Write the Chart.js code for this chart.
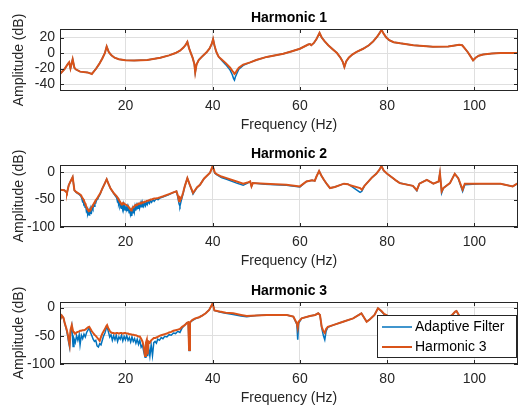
<!DOCTYPE html>
<html>
<head>
<meta charset="utf-8">
<script src="https://cdn.jsdelivr.net/npm/chart.js@4/dist/chart.umd.min.js"></script>
<style>
  body { margin: 0; background: #fff; }
  canvas { position: absolute; left: 0; }
</style>
</head>
<body>
<canvas id="h1Chart" width="519" height="137" style="top:0px"></canvas>
<canvas id="h2Chart" width="519" height="137" style="top:136px"></canvas>
<canvas id="h3Chart" width="519" height="137" style="top:273px"></canvas>
<script>
// x ticks shared by all three panels
const freqTicks = [20, 40, 60, 80, 100];

// Harmonic 1
const h1Freq = [5.0, 6.0, 6.8, 7.1, 7.4, 7.9, 8.3, 8.6, 9.6, 11.3,
  12.3, 13.3, 14.0, 14.7, 15.3, 15.7, 16.2, 16.8, 17.5, 18.5,
  20.0, 22.0, 25.0, 28.0, 30.0, 31.5, 32.5, 33.3, 33.8, 34.2,
  34.6, 35.0, 35.4, 35.8, 36.0, 36.3, 36.8, 37.5, 38.6, 39.3,
  39.8, 40.1, 40.4, 40.8, 41.2, 41.4, 42.0, 43.0, 44.0, 44.5,
  44.8, 45.0, 45.2, 45.5, 46.0, 47.0, 48.6, 50.0, 52.4, 56.2,
  58.0, 60.0, 61.9, 62.3, 62.6, 63.2, 63.8, 64.5, 65.0, 65.7,
  66.5, 67.5, 68.5, 69.3, 69.8, 70.2, 70.6, 71.2, 72.0, 73.0,
  74.5, 75.8, 76.8, 77.7, 78.3, 78.7, 79.2, 79.8, 80.5, 81.5,
  83.0, 86.0, 90.5, 94.0, 95.5, 96.5, 97.2, 97.8, 98.5, 99.2,
  99.7, 100.3, 101.0, 102.0, 104.0, 106.0, 110.0];
const h1Ref = [-27, -21, -14, -12, -20, -8, -19, -21, -24, -25,
  -27, -20, -14, -7, 0, 8.5, 1, -3, -6, -8,
  -9.4, -9.5, -9, -6, -3, 0, 3, 7, 10.5, 14.5,
  6, 0, -6, -14, -25, -15, -9, -5, 1, 6,
  12, 18, 10, 2, -3, -5, -8, -13, -19, -23,
  -25, -27, -26, -23, -19, -15, -12, -9, -5, -1,
  2, 5.5, 11, 11.5, 10, 13, 18, 26, 20, 15,
  10, 5, 0, -6, -11, -18, -11, -6, -2, 1.5,
  5.5, 10, 15, 21, 26, 30, 25, 20, 16.5, 14,
  12.5, 10, 8, 8.5, 9.8, 10.7, 10, 6, 1, -5,
  -9.4, -6, -3.5, -2, -0.5, 0, 0];
const h1Af = [-27, -21, -14, -12, -20, -8, -19, -21, -24, -25,
  -27, -20, -14, -7, 0, 8.5, 1, -3, -6, -8,
  -9.4, -9.5, -9, -6, -3, 0, 3, 7, 10.5, 14.5,
  6, 0, -6, -14, -25, -15, -9, -5, 1, 6,
  12, 18, 10, 2, -3, -5, -9, -15, -22, -28,
  -33, -35, -31, -27, -21, -16, -12, -9, -5, -1,
  2, 5.5, 11, 11.5, 10, 13, 18, 26, 20, 15,
  10, 5, 0, -6, -11, -18, -11, -6, -2, 1.5,
  5.5, 10, 15, 21, 26, 30, 25, 20, 16.5, 14,
  12.5, 10, 8, 8.5, 9.8, 10.7, 10, 6, 1, -5,
  -9.4, -6, -3.5, -2, -0.5, 0, 0];
const h1Ticks = [-40, -20, 0, 20];

// Harmonic 2
const h2Freq = [5.0, 6.0, 6.4, 6.6, 7.0, 7.4, 7.9, 8.3, 8.7, 9.3,
  9.8, 10.0, 10.15, 10.3, 10.45, 10.6, 10.75, 10.9, 11.05, 11.2,
  11.35, 11.5, 11.65, 11.8, 11.95, 12.1, 12.25, 12.4, 12.55, 12.7,
  12.85, 13.0, 13.2, 13.4, 13.6, 13.8, 14.2, 14.7, 15.3, 15.7,
  16.1, 16.6, 17.4, 18.0, 18.15, 18.3, 18.45, 18.6, 18.75, 18.9,
  19.05, 19.2, 19.35, 19.5, 19.65, 19.8, 19.95, 20.1, 20.25, 20.4,
  20.55, 20.7, 20.85, 21.0, 21.15, 21.3, 21.45, 21.6, 21.75, 21.9,
  22.05, 22.2, 22.35, 22.5, 22.65, 22.8, 22.95, 23.1, 23.25, 23.4,
  23.55, 23.7, 23.85, 24.0, 24.2, 24.4, 24.6, 24.8, 25.0, 25.25,
  25.5, 25.75, 26.0, 26.3, 26.6, 27.0, 27.5, 27.9, 28.7, 30.0,
  31.0, 31.7, 32.0, 32.3, 32.5, 32.8, 33.2, 33.6, 34.2, 34.7,
  35.2, 35.5, 36.4, 37.1, 38.0, 39.4, 40.0, 40.5, 41.0, 42.0,
  43.2, 45.5, 47.0, 48.0, 48.6, 48.9, 49.2, 52.0, 56.9, 60.0,
  61.5, 62.8, 63.4, 63.8, 64.4, 64.9, 65.5, 66.2, 66.9, 68.0,
  70.1, 71.0, 71.5, 73.8, 74.2, 74.8, 76.5, 77.5, 78.2, 78.7,
  79.2, 80.0, 81.0, 82.0, 82.9, 85.9, 86.8, 87.4, 89.1, 90.6,
  91.8, 92.1, 92.5, 92.9, 94.4, 95.5, 96.3, 97.3, 97.8, 101.2,
  106.0, 108.8, 110.0];
const h2Ref = [-32, -33, -36, -38, -24, -17, -9, -33, -36, -39,
  -42, -45, -47, -49, -51, -54, -57, -60, -63, -66,
  -68, -70, -71, -69, -68, -66, -64, -62, -60, -58,
  -56, -54, -51, -49, -47, -44, -39, -30, -20, -13,
  -21, -30, -39, -44, -46, -48, -50, -52, -54, -56,
  -57, -58, -57, -58, -57, -58, -59, -59, -60, -61,
  -62, -63, -65, -66, -68, -70, -68, -66, -64, -63,
  -62, -61, -60, -60, -59, -59, -58, -57, -57, -57,
  -56, -56, -56, -55, -55, -54, -54, -53, -52, -52,
  -51, -50, -50, -49, -48, -48, -47, -46, -44, -40,
  -37, -35, -42, -53, -46, -48, -38, -26, -11, -22,
  -32, -38, -28, -23, -12, -1, 11, -1, -4, -8,
  -11, -17, -21, -19, -17, -26, -20, -21, -23, -26,
  -17, -15, -16, -8, 2, -6, -14, -22, -29, -27,
  -21, -22, -24, -29, -32, -25, -10, -3, 4, 11,
  3, -3, -9, -15, -20, -25, -33, -21, -14, -21,
  -17, -2, -35, -29, -20, -3, -11, -32, -21, -21,
  -21, -26, -20];
const h2Af = [-32, -33, -36, -38, -24, -17, -9, -33, -37, -40,
  -44, -48, -53, -51, -58, -56, -64, -62, -71, -68,
  -76, -72, -78, -71, -75, -68, -72, -64, -67, -60,
  -62, -55, -56, -50, -50, -46, -40, -30, -20, -13,
  -21, -30, -40, -47, -53, -50, -58, -54, -62, -58,
  -66, -60, -67, -59, -66, -61, -69, -62, -68, -63,
  -71, -65, -74, -68, -77, -72, -80, -68, -74, -65,
  -72, -63, -70, -62, -68, -61, -66, -59, -65, -58,
  -64, -57, -63, -57, -62, -56, -61, -55, -59, -53,
  -57, -52, -55, -50, -53, -49, -50, -47, -45, -41,
  -37, -35, -45, -58, -62, -52, -40, -26, -11, -22,
  -33, -40, -28, -23, -12, -1, 11, -2, -5, -10,
  -13, -20, -24, -20, -17, -26, -20, -22, -24, -27,
  -17, -15, -16, -8, 2, -6, -14, -22, -29, -27,
  -21, -22, -24, -37, -35, -25, -10, -3, 4, 11,
  3, -3, -9, -15, -20, -25, -34, -21, -14, -21,
  -17, -2, -38, -29, -20, -3, -11, -35, -23, -21,
  -21, -26, -20];
const h2Ticks = [-100, -50, 0];

// Harmonic 3
const h3Freq = [5.0, 5.4, 5.8, 6.1, 6.5, 6.8, 7.0, 7.2, 7.4, 7.7, 8.0, 8.2, 8.5, 8.8, 9.1, 9.4, 9.6, 9.9, 10.2, 10.5,
  10.8, 11.1, 11.4, 11.7, 12.0, 12.3, 12.6, 12.9, 13.2, 13.5, 13.8, 14.1, 14.4, 14.7, 15.0, 15.3, 15.6, 15.8, 16.1, 16.4,
  16.7, 17.0, 17.3, 17.6, 17.9, 18.2, 18.5, 18.8, 19.1, 19.4, 19.7, 20.0, 20.3, 20.6, 20.9, 21.2, 21.5, 21.8, 22.1, 22.4,
  22.7, 23.0, 23.3, 23.6, 23.9, 24.2, 24.5, 24.7, 24.9, 25.1, 25.3, 25.6, 25.9, 26.2, 26.5, 26.8, 27.1, 27.4, 27.8, 28.2,
  28.6, 29.0, 29.5, 30.0, 30.5, 31.0, 31.5, 32.0, 32.5, 33.0, 33.6, 34.1, 34.4, 34.6, 34.8, 35.3, 36.0, 36.9, 37.6, 38.4,
  39.2, 40.0, 40.4, 41.6, 43.0, 44.7, 46.5, 47.8, 50.0, 52.4, 55.0, 57.0, 58.5, 59.3, 59.5, 59.7, 60.4, 62.3, 63.5, 64.2,
  64.6, 65.0, 65.4, 65.7, 66.0, 66.4, 67.6, 69.9, 72.2, 74.1, 75.3, 76.0, 77.1, 77.9, 78.7, 79.3, 80.5, 83.0, 88.0, 93.0,
  94.8, 95.6, 95.9, 96.5, 97.5, 102.0, 106.0, 109.0, 110.0];
const h3Ref = [-22, -14, -18, -28, -38, -48, -58, -66, -40, -31, -42, -44, -46, -44, -43, -42, -41, -41, -40, -40,
  -39, -37, -35, -34, -38, -42, -45, -48, -50, -53, -56, -59, -52, -46, -42, -38, -33, -31, -37, -41,
  -44, -45, -45, -46, -45, -45, -46, -45, -45, -46, -45, -45, -46, -46, -47, -47, -48, -48, -49, -49,
  -50, -51, -51, -55, -60, -69, -86, -62, -57, -83, -60, -62, -58, -56, -54, -54, -53, -52, -50, -49,
  -48, -47, -46, -44, -43, -41, -40, -39, -38, -34, -31, -27, -26, -75, -26, -22, -19, -17, -14, -10,
  -4, 7.6, -5, -7, -9, -10, -13, -15, -14, -13, -13, -13, -16, -28, -36, -25, -19, -15, -13, -10,
  -13, -34, -42, -45, -38, -34, -31, -25, -19, -10, -25, -21, -13, -1, -6, -11, -16, -18, -19, -18,
  -14, -7, -6, -14, -19, -19, -19, -18, -16];
const h3Af = [-22, -14, -19, -28, -40, -52, -62, -70, -45, -33, -69, -55, -62, -50, -58, -48, -66, -49, -55, -47,
  -52, -44, -40, -36, -44, -50, -56, -60, -58, -68, -70, -64, -66, -58, -50, -45, -37, -34, -43, -52,
  -48, -58, -50, -57, -49, -60, -52, -56, -49, -59, -51, -57, -50, -58, -53, -61, -52, -60, -55, -63,
  -56, -65, -58, -70, -66, -78, -88, -74, -64, -86, -70, -86, -66, -85, -62, -60, -63, -56, -58, -53,
  -55, -51, -52, -48, -49, -45, -46, -42, -44, -36, -31, -27, -26, -76, -26, -23, -20, -17, -14, -10,
  -4, 7.6, -5, -8, -10, -12, -15, -16, -14, -13, -13, -13, -16, -30, -57, -28, -19, -15, -13, -10,
  -13, -36, -50, -57, -42, -35, -31, -25, -19, -10, -25, -21, -13, -1, -7, -12, -16, -18, -19, -18,
  -14, -7, -6, -14, -19, -19, -19, -18, -16];
const h3Ticks = [-100, -50, 0];

const seriesNames = ['Adaptive Filter', 'Harmonic 3'];
const blue = '#0072BD';
const orange = '#D95319';
const axisColor = '#262626';

Chart.defaults.font.family = '"Liberation Sans", Arial, sans-serif';
Chart.defaults.color = axisColor;

// box, inner tick marks, panel title and the legend of the last panel
const framePlugin = {
    id: 'frame',
    afterDraw(chart, args, opts) {
        const ctx = chart.ctx;
        const a = chart.chartArea;
        const xs = chart.scales.x;
        const ys = chart.scales.y;
        ctx.save();
        ctx.strokeStyle = axisColor;
        ctx.lineWidth = 1;
        ctx.strokeRect(a.left + 0.5, a.top + 0.5, a.right - a.left - 1, a.bottom - a.top - 1);
        ctx.beginPath();
        freqTicks.forEach(v => {
            const x = Math.round(xs.getPixelForValue(v)) + 0.5;
            ctx.moveTo(x, a.bottom); ctx.lineTo(x, a.bottom - 4);
            ctx.moveTo(x, a.top); ctx.lineTo(x, a.top + 4);
        });
        opts.yTicks.forEach(v => {
            const y = Math.round(ys.getPixelForValue(v)) + 0.5;
            ctx.moveTo(a.left, y); ctx.lineTo(a.left + 4, y);
            ctx.moveTo(a.right, y); ctx.lineTo(a.right - 4, y);
        });
        ctx.stroke();

        ctx.fillStyle = '#000';
        ctx.font = 'bold 14px "Liberation Sans", Arial, sans-serif';
        ctx.textAlign = 'center';
        ctx.textBaseline = 'middle';
        ctx.fillText(opts.title, (a.left + a.right) / 2, 18);

        if (opts.legend) {
            ctx.fillStyle = '#fff';
            ctx.fillRect(377, 42, 139, 42);
            ctx.strokeStyle = axisColor;
            ctx.strokeRect(377.5, 42.5, 139, 42);
            ctx.lineWidth = 1.5;
            ctx.strokeStyle = blue;
            ctx.beginPath(); ctx.moveTo(382, 54); ctx.lineTo(412, 54); ctx.stroke();
            ctx.lineWidth = 2;
            ctx.strokeStyle = orange;
            ctx.beginPath(); ctx.moveTo(382, 74); ctx.lineTo(412, 74); ctx.stroke();
            ctx.fillStyle = '#000';
            ctx.font = '14px "Liberation Sans", Arial, sans-serif';
            ctx.textAlign = 'left';
            ctx.fillText(seriesNames[0], 415, 54);
            ctx.fillText(seriesNames[1], 415, 74);
        }
        ctx.restore();
    }
};

function drawPanel(id, title, freq, af, ref, yMin, yMax, yTicks, legend) {
    const ctx = document.getElementById(id).getContext('2d');
    new Chart(ctx, {
        type: 'line',
        data: {
            datasets: [{
                label: seriesNames[0],
                data: freq.map((f, i) => ({x: f, y: af[i]})),
                borderColor: blue,
                borderWidth: 1.5,
                pointRadius: 0,
                order: 1
            }, {
                label: title,
                data: freq.map((f, i) => ({x: f, y: ref[i]})),
                borderColor: orange,
                borderWidth: 2,
                pointRadius: 0,
                order: 0
            }]
        },
        options: {
            responsive: false,
            animation: false,
            layout: {padding: {top: 29, right: 1, left: 0, bottom: 0}},
            plugins: {
                legend: {display: false},
                tooltip: {enabled: false},
                frame: {title: title, yTicks: yTicks, legend: legend}
            },
            scales: {
                x: {
                    type: 'linear',
                    min: 5,
                    max: 110,
                    afterBuildTicks: s => { s.ticks = freqTicks.map(v => ({value: v})); },
                    afterFit: s => { s.height = 46; },
                    grid: {color: '#dfdfdf', drawTicks: false},
                    border: {display: false},
                    ticks: {font: {size: 14}, padding: 7, maxRotation: 0},
                    title: {display: true, text: 'Frequency (Hz)', font: {size: 14}, padding: {top: 0, bottom: 3}}
                },
                y: {
                    min: yMin,
                    max: yMax,
                    afterBuildTicks: s => { s.ticks = yTicks.map(v => ({value: v})); },
                    afterFit: s => { s.width = 60; },
                    grid: {color: '#dfdfdf', drawTicks: false},
                    border: {display: false},
                    ticks: {font: {size: 14}, padding: 5},
                    title: {display: true, text: 'Amplitude (dB)', font: {size: 14}, padding: {top: 11, bottom: 0}}
                }
            }
        },
        plugins: [framePlugin]
    });
}

drawPanel('h1Chart', 'Harmonic 1', h1Freq, h1Af, h1Ref, -49, 31, h1Ticks, false);
drawPanel('h2Chart', 'Harmonic 2', h2Freq, h2Af, h2Ref, -100, 13, h2Ticks, false);
drawPanel('h3Chart', 'Harmonic 3', h3Freq, h3Af, h3Ref, -100, 10, h3Ticks, true);
</script>
</body>
</html>
